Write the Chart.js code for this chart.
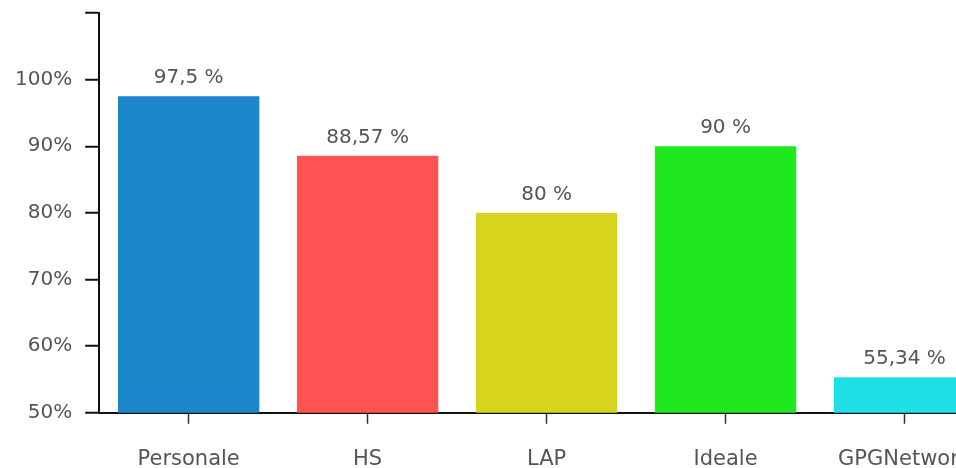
<!DOCTYPE html>
<html>
<head>
<meta charset="utf-8">
<script src="https://cdn.jsdelivr.net/npm/chart.js@4.4.1/dist/chart.umd.min.js"></script>
<style>
  html, body { margin: 0; padding: 0; background: #ffffff; overflow: hidden; }
  #wrap { width: 994px; height: 509px; margin-top: -12px; }
</style>
</head>
<body>
<div id="wrap"><canvas id="chart" width="994" height="509"></canvas></div>
<script>
// Categories and their percentages
const categories = ['Personale', 'HS', 'LAP', 'Ideale', 'GPGNetwork'];
const percentages = [97.5, 88.57, 80, 90, 55.34];
const barColors = ['#1b86c9', '#ff5252', '#d6d41c', '#1fe81f', '#1ee0e6'];

// Value axis range
const yMin = 50;
const yMax = 110;
const yStep = 10;

const FONT = '"DejaVu Sans", Verdana, sans-serif';
const TEXT_COLOR = '#555555';

// Percentage with a decimal comma, e.g. "88,57 %"
function formatPct(v) {
  return String(v).replace('.', ',') + ' %';
}

// Writes each bar's value above it
const valueLabels = {
  id: 'valueLabels',
  afterDraw(chart) {
    const ctx = chart.ctx;
    const meta = chart.getDatasetMeta(0);
    ctx.save();
    ctx.font = '20px ' + FONT;
    ctx.fillStyle = TEXT_COLOR;
    ctx.textAlign = 'center';
    ctx.textBaseline = 'alphabetic';
    meta.data.forEach((bar, i) => {
      ctx.fillText(formatPct(percentages[i]), bar.x, bar.y - 13);
    });
    ctx.restore();
  }
};

new Chart(document.getElementById('chart'), {
  type: 'bar',
  data: {
    labels: categories,
    datasets: [{
      data: percentages,
      backgroundColor: barColors,
      borderWidth: 0,
      barPercentage: 0.79,
      categoryPercentage: 1.0
    }]
  },
  options: {
    responsive: false,
    animation: false,
    layout: { padding: { left: 2, top: 1, right: 0, bottom: 2 } },
    plugins: {
      legend: { display: false },
      tooltip: { enabled: false }
    },
    scales: {
      x: {
        offset: true,
        grid: {
          display: true,
          offset: false,
          drawOnChartArea: false,
          drawTicks: true,
          tickLength: 11,
          tickColor: '#333333',
          tickWidth: 1.5
        },
        border: { display: true, color: '#111111', width: 2 },
        ticks: {
          padding: 23,
          color: TEXT_COLOR,
          font: { family: FONT, size: 21 },
          maxRotation: 0,
          autoSkip: false
        }
      },
      y: {
        z: 1,
        min: yMin,
        max: yMax,
        grid: {
          color: 'rgba(255,255,255,0.4)',
          lineWidth: 1.5,
          drawTicks: true,
          tickLength: 14,
          tickColor: '#111111',
          tickWidth: 2
        },
        border: { display: true, color: '#111111', width: 2 },
        ticks: {
          stepSize: yStep,
          padding: 13,
          color: TEXT_COLOR,
          font: { family: FONT, size: 20 },
          callback: (v) => (v >= yMax ? '' : v + '%')
        }
      }
    }
  },
  plugins: [valueLabels]
});
</script>
</body>
</html>
